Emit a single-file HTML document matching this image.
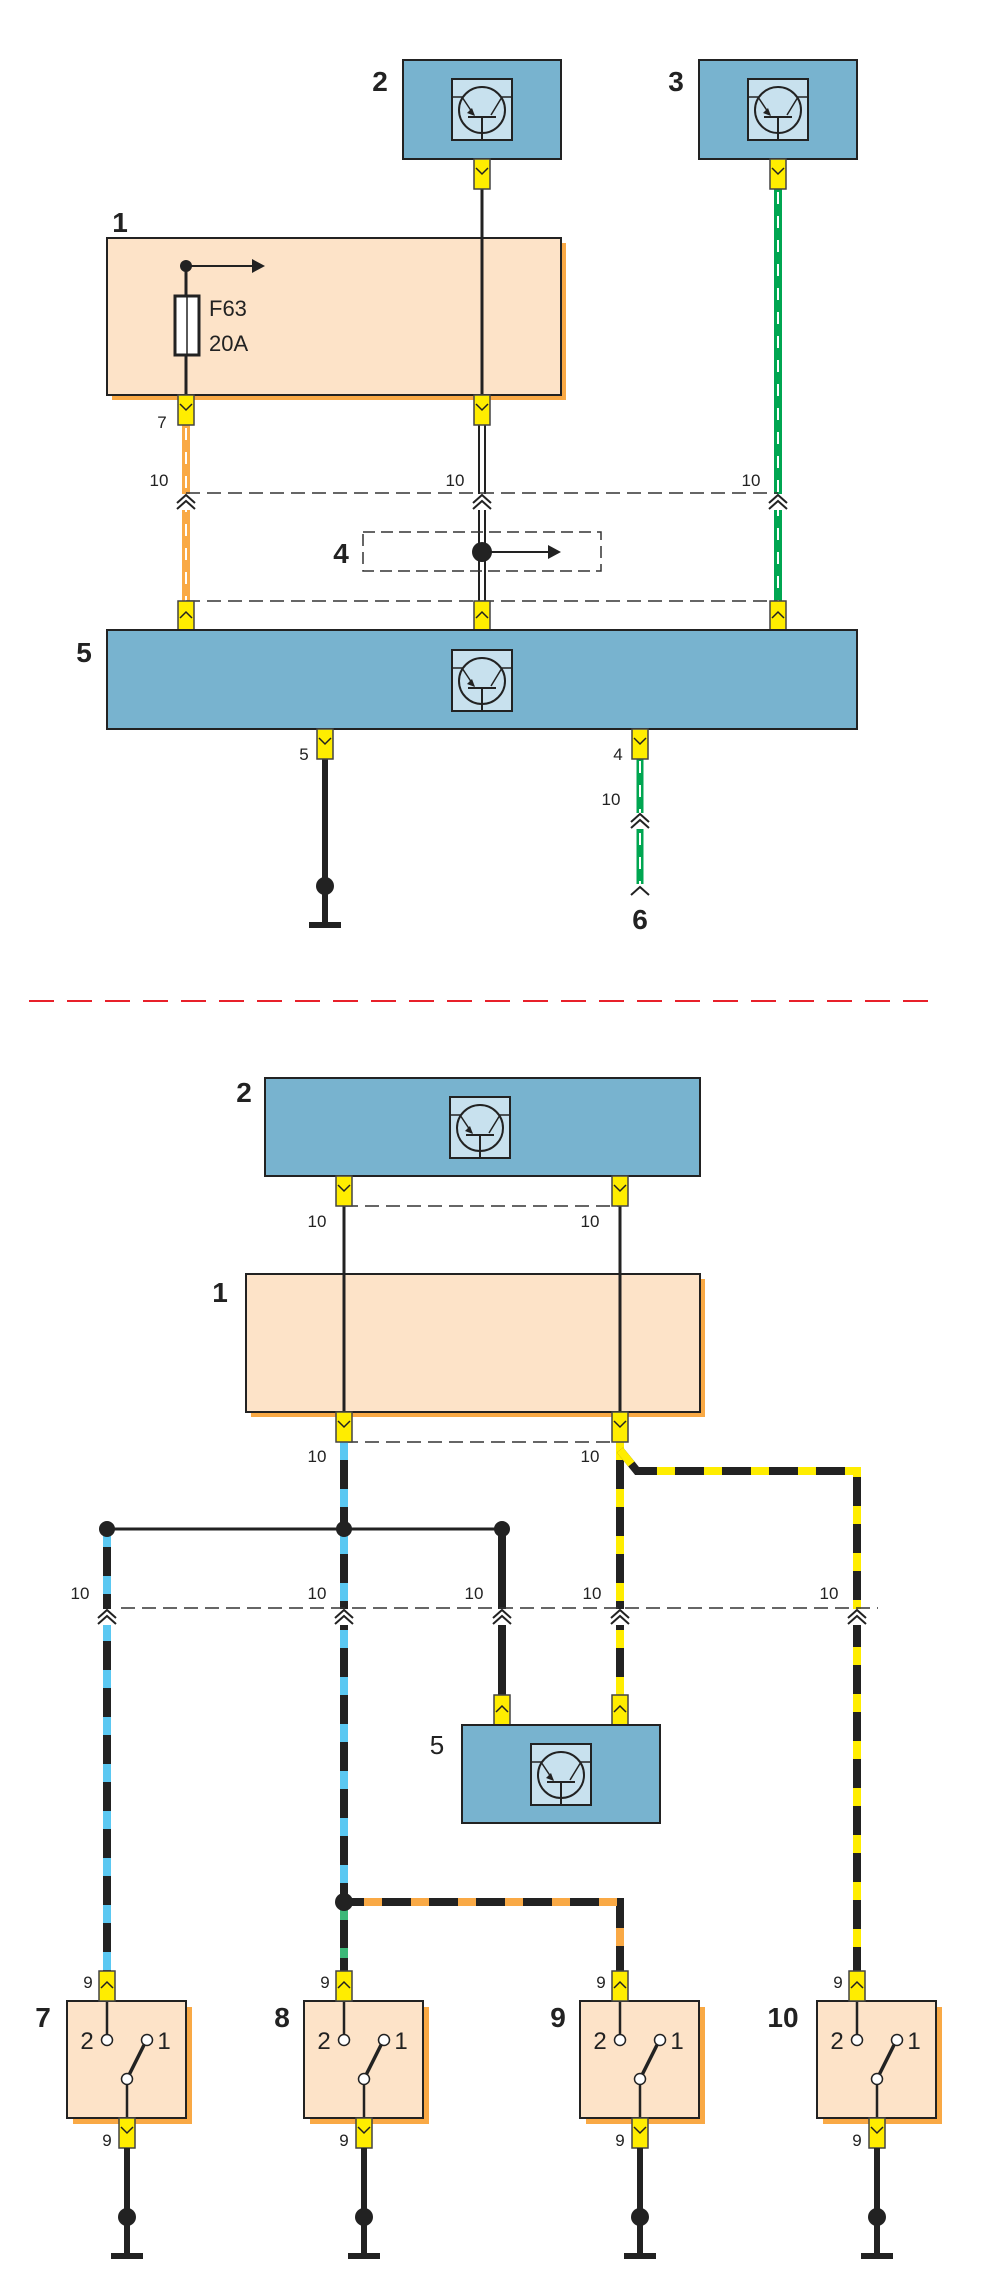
<!DOCTYPE html>
<html><head><meta charset="utf-8"><style>html,body{margin:0;padding:0;background:#fff}svg{display:block}text{font-family:"Liberation Sans",sans-serif;fill:#222}</style></head><body>
<svg width="993" height="2283" viewBox="0 0 993 2283" xmlns="http://www.w3.org/2000/svg">
<defs>
<g id="tr">
<rect x="0" y="0" width="60" height="61" fill="#c8e1ee" stroke="#222" stroke-width="2"/>
<line x1="0" y1="18" x2="60" y2="18" stroke="#222" stroke-width="1.5"/>
<circle cx="30" cy="31" r="23" fill="#c8e1ee" stroke="#222" stroke-width="2"/>
<line x1="16" y1="38" x2="44" y2="38" stroke="#222" stroke-width="2"/>
<line x1="30" y1="38" x2="30" y2="61" stroke="#222" stroke-width="2"/>
<line x1="10" y1="18" x2="22" y2="36" stroke="#222" stroke-width="1.5"/>
<line x1="50" y1="18" x2="39" y2="36" stroke="#222" stroke-width="1.5"/>
<path d="M23 37 l-8 -3 l5 -5 z" fill="#222"/>
</g>
<g id="cd"><rect x="-8" y="0" width="16" height="30" fill="#ffed00" stroke="#444" stroke-width="1.5"/><path d="M-6 9 L0 15 L6 9" fill="none" stroke="#222" stroke-width="1.5"/></g>
<g id="cu"><rect x="-8" y="0" width="16" height="30" fill="#ffed00" stroke="#444" stroke-width="1.5"/><path d="M-6 17 L0 11 L6 17" fill="none" stroke="#222" stroke-width="1.5"/></g>
<g id="ch"><rect x="-10" y="-1" width="20" height="16" fill="#fff"/><path d="M-9 8 L0 0 L9 8 M-9 14 L0 6 L9 14" fill="none" stroke="#222" stroke-width="2"/></g>
</defs>

<!-- TOP SECTION -->
<rect x="403" y="60" width="158" height="99" fill="#78b3cf" stroke="#222" stroke-width="2"/>
<use href="#tr" x="452" y="79"/>
<text x="380" y="91" font-size="28" font-weight="bold" text-anchor="middle">2</text>
<rect x="699" y="60" width="158" height="99" fill="#78b3cf" stroke="#222" stroke-width="2"/>
<use href="#tr" x="748" y="79"/>
<text x="676" y="91" font-size="28" font-weight="bold" text-anchor="middle">3</text>

<rect x="112" y="243" width="454" height="157" fill="#f9a945"/>
<rect x="107" y="238" width="454" height="157" fill="#fde3c8" stroke="#222" stroke-width="2"/>
<text x="120" y="232" font-size="28" font-weight="bold" text-anchor="middle">1</text>
<line x1="186" y1="266" x2="186" y2="395" stroke="#222" stroke-width="3"/>
<rect x="175" y="296" width="24" height="59" fill="#fff" stroke="#222" stroke-width="3"/>
<line x1="187" y1="296" x2="187" y2="355" stroke="#222" stroke-width="1.5"/>
<circle cx="186" cy="266" r="6" fill="#222"/>
<line x1="186" y1="266" x2="255" y2="266" stroke="#222" stroke-width="2"/>
<path d="M252 259 L265 266 L252 273 z" fill="#222"/>
<text x="209" y="316" font-size="22">F63</text>
<text x="209" y="351" font-size="22">20A</text>

<line x1="482" y1="189" x2="482" y2="395" stroke="#222" stroke-width="3"/>
<line x1="778" y1="189" x2="778" y2="601" stroke="#00a651" stroke-width="8"/>
<line x1="778" y1="192" x2="778" y2="601" stroke="#fff" stroke-width="2" stroke-dasharray="12 12"/>

<line x1="186" y1="425" x2="186" y2="601" stroke="#f9a945" stroke-width="8"/>
<line x1="186" y1="428" x2="186" y2="601" stroke="#fff" stroke-width="2" stroke-dasharray="12 12"/>
<line x1="482" y1="425" x2="482" y2="601" stroke="#222" stroke-width="8"/>
<line x1="482" y1="425" x2="482" y2="601" stroke="#fff" stroke-width="4"/>

<line x1="186" y1="493" x2="778" y2="493" stroke="#333" stroke-width="1.5" stroke-dasharray="14 7"/>
<line x1="186" y1="601" x2="778" y2="601" stroke="#333" stroke-width="1.5" stroke-dasharray="14 7"/>
<use href="#ch" x="186" y="495"/><use href="#ch" x="482" y="495"/><use href="#ch" x="778" y="495"/>
<text x="159" y="486" font-size="17" text-anchor="middle">10</text>
<text x="455" y="486" font-size="17" text-anchor="middle">10</text>
<text x="751" y="486" font-size="17" text-anchor="middle">10</text>
<text x="162" y="428" font-size="17" text-anchor="middle">7</text>

<rect x="363" y="532" width="238" height="39" fill="none" stroke="#333" stroke-width="1.5" stroke-dasharray="12 6"/>
<text x="341" y="563" font-size="28" font-weight="bold" text-anchor="middle">4</text>
<circle cx="482" cy="552" r="10" fill="#222"/>
<line x1="482" y1="552" x2="552" y2="552" stroke="#222" stroke-width="2"/>
<path d="M548 545 L561 552 L548 559 z" fill="#222"/>

<use href="#cd" x="482" y="159"/><use href="#cd" x="778" y="159"/>
<use href="#cd" x="186" y="395"/><use href="#cd" x="482" y="395"/>
<use href="#cu" x="186" y="601"/><use href="#cu" x="482" y="601"/><use href="#cu" x="778" y="601"/>

<rect x="107" y="630" width="750" height="99" fill="#78b3cf" stroke="#222" stroke-width="2"/>
<use href="#tr" x="452" y="650"/>
<text x="84" y="662" font-size="28" font-weight="bold" text-anchor="middle">5</text>

<line x1="325" y1="758" x2="325" y2="925" stroke="#222" stroke-width="6"/>
<circle cx="325" cy="886" r="9" fill="#222"/>
<line x1="309" y1="925" x2="341" y2="925" stroke="#222" stroke-width="6"/>
<line x1="640" y1="758" x2="640" y2="892" stroke="#00a651" stroke-width="7"/>
<line x1="640" y1="761" x2="640" y2="892" stroke="#fff" stroke-width="2" stroke-dasharray="12 12"/>
<use href="#ch" x="640" y="814"/>
<rect x="630" y="884" width="20" height="12" fill="#fff"/>
<path d="M631 895 L640 887 L649 895" fill="none" stroke="#222" stroke-width="2"/>
<use href="#cd" x="325" y="729"/><use href="#cd" x="640" y="729"/>
<text x="304" y="760" font-size="17" text-anchor="middle">5</text>
<text x="618" y="760" font-size="17" text-anchor="middle">4</text>
<text x="611" y="805" font-size="17" text-anchor="middle">10</text>
<text x="640" y="929" font-size="28" font-weight="bold" text-anchor="middle">6</text>

<line x1="29" y1="1001" x2="934" y2="1001" stroke="#e8202a" stroke-width="2" stroke-dasharray="25 13"/>

<!-- BOTTOM SECTION -->
<rect x="265" y="1078" width="435" height="98" fill="#78b3cf" stroke="#222" stroke-width="2"/>
<use href="#tr" x="450" y="1097"/>
<text x="244" y="1102" font-size="28" font-weight="bold" text-anchor="middle">2</text>

<rect x="251" y="1279" width="454" height="138" fill="#f9a945"/>
<rect x="246" y="1274" width="454" height="138" fill="#fde3c8" stroke="#222" stroke-width="2"/>
<text x="220" y="1302" font-size="28" font-weight="bold" text-anchor="middle">1</text>
<line x1="344" y1="1206" x2="344" y2="1412" stroke="#222" stroke-width="3"/>
<line x1="620" y1="1206" x2="620" y2="1412" stroke="#222" stroke-width="3"/>
<line x1="344" y1="1206" x2="620" y2="1206" stroke="#333" stroke-width="1.5" stroke-dasharray="14 7"/>
<line x1="344" y1="1442" x2="620" y2="1442" stroke="#333" stroke-width="1.5" stroke-dasharray="14 7"/>
<text x="317" y="1227" font-size="17" text-anchor="middle">10</text>
<text x="590" y="1227" font-size="17" text-anchor="middle">10</text>
<text x="317" y="1462" font-size="17" text-anchor="middle">10</text>
<text x="590" y="1462" font-size="17" text-anchor="middle">10</text>

<!-- wires -->
<line x1="107" y1="1529" x2="502" y2="1529" stroke="#222" stroke-width="3"/>
<g stroke-width="8" fill="none">
<path d="M107 1529 V1971" stroke="#222"/><path d="M107 1529 V1971" stroke="#5bc8f2" stroke-dasharray="18 29"/>
<path d="M344 1442 V1902" stroke="#222"/><path d="M344 1442 V1902" stroke="#5bc8f2" stroke-dasharray="18 29"/>
<path d="M344 1902 V1971" stroke="#222"/><path d="M344 1902 V1971" stroke="#3cb878" stroke-dasharray="10 28" stroke-dashoffset="-8"/>
<path d="M344 1902 H620 V1971" stroke="#222"/><path d="M344 1902 H620 V1971" stroke="#f9a945" stroke-dasharray="18 29" stroke-dashoffset="-20"/>
<path d="M502 1529 V1695" stroke="#222"/>
<path d="M620 1442 V1695" stroke="#222"/><path d="M620 1442 V1695" stroke="#ffed00" stroke-dasharray="18 29"/>
<path d="M620 1450 L637 1471 H857 V1971" stroke="#222"/><path d="M620 1450 L637 1471 H857 V1971" stroke="#ffed00" stroke-dasharray="18 29"/>
</g>
<circle cx="107" cy="1529" r="8" fill="#222"/><circle cx="344" cy="1529" r="8" fill="#222"/><circle cx="502" cy="1529" r="8" fill="#222"/>
<circle cx="344" cy="1902" r="9" fill="#222"/>

<line x1="121" y1="1608" x2="878" y2="1608" stroke="#333" stroke-width="1.5" stroke-dasharray="14 7"/>
<use href="#ch" x="107" y="1610"/><use href="#ch" x="344" y="1610"/><use href="#ch" x="502" y="1610"/><use href="#ch" x="620" y="1610"/><use href="#ch" x="857" y="1610"/>
<text x="80" y="1599" font-size="17" text-anchor="middle">10</text>
<text x="317" y="1599" font-size="17" text-anchor="middle">10</text>
<text x="474" y="1599" font-size="17" text-anchor="middle">10</text>
<text x="592" y="1599" font-size="17" text-anchor="middle">10</text>
<text x="829" y="1599" font-size="17" text-anchor="middle">10</text>

<use href="#cd" x="344" y="1176"/><use href="#cd" x="620" y="1176"/>
<use href="#cd" x="344" y="1412"/><use href="#cd" x="620" y="1412"/>
<use href="#cu" x="502" y="1695"/><use href="#cu" x="620" y="1695"/>

<rect x="462" y="1725" width="198" height="98" fill="#78b3cf" stroke="#222" stroke-width="2"/>
<use href="#tr" x="531" y="1744"/>
<text x="437" y="1754" font-size="26" text-anchor="middle">5</text>

<!-- switches -->
<g id="sw7">
<rect x="73" y="2007" width="119" height="117" fill="#f9a945"/>
<rect x="67" y="2001" width="119" height="117" fill="#fde3c8" stroke="#222" stroke-width="2"/>
<line x1="107" y1="2001" x2="107" y2="2036" stroke="#222" stroke-width="2.5"/>
<line x1="127" y1="2079" x2="145" y2="2043" stroke="#222" stroke-width="3.5"/>
<line x1="127" y1="2079" x2="127" y2="2118" stroke="#222" stroke-width="2.5"/>
<circle cx="107" cy="2040" r="5.5" fill="#fff" stroke="#222" stroke-width="1.5"/>
<circle cx="147" cy="2040" r="5.5" fill="#fff" stroke="#222" stroke-width="1.5"/>
<circle cx="127" cy="2079" r="5.5" fill="#fff" stroke="#222" stroke-width="1.5"/>
<text x="87" y="2049" font-size="24" text-anchor="middle">2</text>
<text x="164" y="2049" font-size="24" text-anchor="middle">1</text>
<use href="#cu" x="107" y="1971"/>
<use href="#cd" x="127" y="2118"/>
<text x="88" y="1988" font-size="17" text-anchor="middle">9</text>
<text x="107" y="2146" font-size="17" text-anchor="middle">9</text>
<line x1="127" y1="2148" x2="127" y2="2256" stroke="#222" stroke-width="6"/>
<circle cx="127" cy="2217" r="9" fill="#222"/>
<line x1="111" y1="2256" x2="143" y2="2256" stroke="#222" stroke-width="6"/>
</g>
<use href="#sw7" x="237"/>
<use href="#sw7" x="513"/>
<use href="#sw7" x="750"/>
<text x="43" y="2027" font-size="28" font-weight="bold" text-anchor="middle">7</text>
<text x="282" y="2027" font-size="28" font-weight="bold" text-anchor="middle">8</text>
<text x="558" y="2027" font-size="28" font-weight="bold" text-anchor="middle">9</text>
<text x="783" y="2027" font-size="28" font-weight="bold" text-anchor="middle">10</text>
</svg>
</body></html>
